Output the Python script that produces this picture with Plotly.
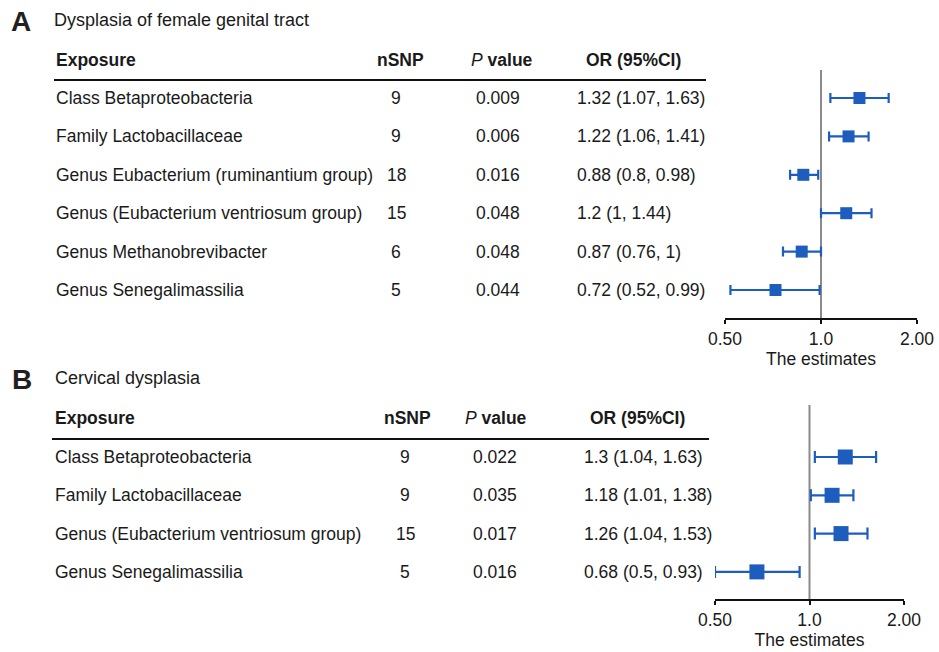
import math
import plotly.graph_objects as go

# ---------------- data ----------------
exposure_a = [
    "Class Betaproteobacteria",
    "Family Lactobacillaceae",
    "Genus Eubacterium (ruminantium group)",
    "Genus (Eubacterium ventriosum group)",
    "Genus Methanobrevibacter",
    "Genus Senegalimassilia",
]
nsnp_a = [9, 9, 18, 15, 6, 5]
pval_a = ["0.009", "0.006", "0.016", "0.048", "0.048", "0.044"]
or_a = [1.32, 1.22, 0.88, 1.2, 0.87, 0.72]
lo_a = [1.07, 1.06, 0.8, 1.0, 0.76, 0.52]
hi_a = [1.63, 1.41, 0.98, 1.44, 1.0, 0.99]

exposure_b = [
    "Class Betaproteobacteria",
    "Family Lactobacillaceae",
    "Genus (Eubacterium ventriosum group)",
    "Genus Senegalimassilia",
]
nsnp_b = [9, 9, 15, 5]
pval_b = ["0.022", "0.035", "0.017", "0.016"]
or_b = [1.3, 1.18, 1.26, 0.68]
lo_b = [1.04, 1.01, 1.04, 0.5]
hi_b = [1.63, 1.38, 1.53, 0.93]

tick_vals = [0.5, 1.0, 2.0]
tick_text = ["0.50", "1.0", "2.00"]

# ---------------- styling ----------------
W, H = 939, 652
FONT = "Liberation Sans, Arial, Helvetica, sans-serif"
TXT = "#1a1a1a"
BLUE = "#1c5dbd"
GREY = "#8a8a8a"
ROW_SIZE = 17.5


def px(x):
    return x / W


def py(y):
    return 1 - y / H


def fmt(v):
    return f"{v:g}"


fig = go.Figure()
annotations = []
shapes = []


def text(x, y, s, size=ROW_SIZE, anchor="left", color=TXT):
    annotations.append(dict(
        x=px(x), y=py(y), xref="paper", yref="paper", text=s,
        showarrow=False, xanchor=anchor, yanchor="middle",
        font=dict(family=FONT, size=size, color=color),
    ))


def panel(letter, title, top, exposures, nsnp, pvals, ors, los, his,
          cols, row0, step, line_x, forest, axis_id, msize, capw):
    # panel letter and title
    text(cols["letter"], top, f"<b>{letter}</b>", size=28, color="#231f20")
    text(cols["title"], top - 1, title, size=18)

    # table header
    hy = cols["head_y"]
    text(cols["exp"], hy, "<b>Exposure</b>")
    text(cols["nsnp_h"], hy, "<b>nSNP</b>", anchor="center")
    text(cols["p_h"], hy, "<i>P</i> <b>value</b>", anchor="center")
    text(cols["or_h"], hy, "<b>OR (95%CI)</b>", anchor="center")
    shapes.append(dict(type="line", xref="paper", yref="paper",
                       x0=px(line_x[0]), x1=px(line_x[1]),
                       y0=py(cols["line_y"]), y1=py(cols["line_y"]),
                       line=dict(color="#111", width=2)))

    # table rows
    for i, name in enumerate(exposures):
        y = row0 + step * i
        text(cols["exp"], y, name)
        text(cols["nsnp"], y, str(nsnp[i]), anchor="center")
        text(cols["p"], y, pvals[i], anchor="center")
        text(cols["or"], y,
             f"{fmt(ors[i])} ({fmt(los[i])}, {fmt(his[i])})")

    # forest plot
    x0, x1, ytop, ybot = forest
    xa = "xaxis" if axis_id == 1 else f"xaxis{axis_id}"
    ya = "yaxis" if axis_id == 1 else f"yaxis{axis_id}"
    xref = "x" if axis_id == 1 else f"x{axis_id}"
    yref = "y" if axis_id == 1 else f"y{axis_id}"
    rows = [-i for i in range(len(exposures))]
    fig.add_trace(go.Scatter(
        x=ors, y=rows, mode="markers", xaxis=xref, yaxis=yref,
        marker=dict(symbol="square", size=msize, color=BLUE,
                    line=dict(width=0)),
        error_x=dict(type="data", symmetric=False,
                     array=[h - o for h, o in zip(his, ors)],
                     arrayminus=[o - l for o, l in zip(ors, los)],
                     color=BLUE, thickness=2.2, width=capw),
        showlegend=False, hoverinfo="skip",
    ))
    fig.layout[xa] = dict(
        domain=[px(x0), px(x1)], anchor=yref, type="log",
        range=[math.log10(0.5), math.log10(2.0)],
        tickvals=tick_vals, ticktext=tick_text,
        showline=True, linecolor="#111", linewidth=2,
        ticks="outside", ticklen=4, tickwidth=2, tickcolor="#111",
        showgrid=False, zeroline=False, automargin=False,
        tickfont=dict(family=FONT, size=17.5, color=TXT),
        title=dict(text="The estimates", standoff=1,
                   font=dict(family=FONT, size=17.5, color=TXT)),
        fixedrange=True,
    )
    fig.layout[ya] = dict(
        domain=[py(ybot), py(ytop)], anchor=xref,
        range=[-(ybot - row0) / step, -(ytop - row0) / step],
        visible=False, showgrid=False, zeroline=False,
        automargin=False, fixedrange=True,
    )
    # reference line at OR = 1
    shapes.append(dict(type="line", xref=xref, yref=f"{yref} domain",
                       x0=1, x1=1, y0=0, y1=1, layer="below",
                       line=dict(color=GREY, width=2)))


panel("A", "Dysplasia of female genital tract", 21,
      exposure_a, nsnp_a, pval_a, or_a, lo_a, hi_a,
      {"letter": 9, "title": 52, "head_y": 60, "line_y": 80, "exp": 54,
       "nsnp_h": 400, "p_h": 502, "or_h": 633, "nsnp": 396, "p": 498,
       "or": 575},
      row0=98, step=38.4, line_x=(54, 706),
      forest=(725, 917, 70, 318), axis_id=1, msize=12, capw=5)

panel("B", "Cervical dysplasia", 379,
      exposure_b, nsnp_b, pval_b, or_b, lo_b, hi_b,
      {"letter": 10, "title": 53, "head_y": 418, "line_y": 439, "exp": 53,
       "nsnp_h": 407, "p_h": 496, "or_h": 637, "nsnp": 405, "p": 495,
       "or": 582},
      row0=457, step=38.3, line_x=(52, 709),
      forest=(715, 904, 405, 599), axis_id=2, msize=15, capw=6)

fig.update_layout(
    width=W, height=H,
    margin=dict(l=0, r=0, t=0, b=0, autoexpand=False),
    paper_bgcolor="white", plot_bgcolor="white",
    annotations=annotations, shapes=shapes,
    font=dict(family=FONT, color=TXT),
)

fig.write_html("out.html")
